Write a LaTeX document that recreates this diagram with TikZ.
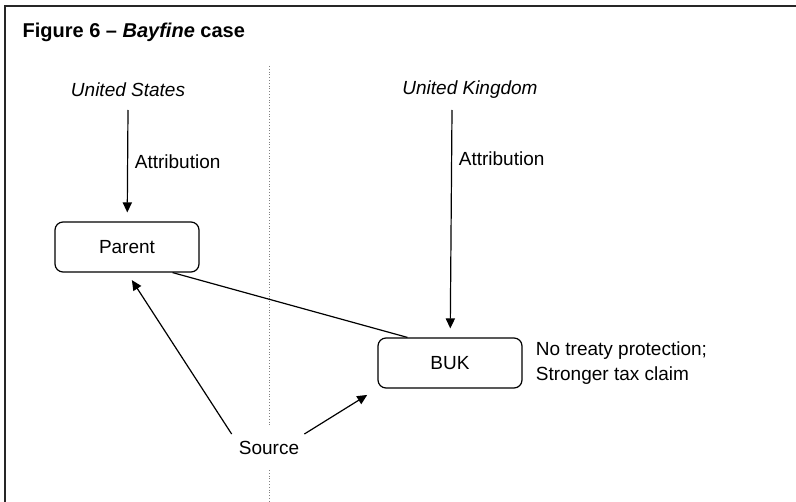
\documentclass[tikz,border=0pt]{standalone}
\usepackage{fontspec}
\setmainfont{Liberation Sans}
\usetikzlibrary{arrows.meta,positioning}

\begin{document}
\begin{tikzpicture}[x=0.5pt,y=-0.5pt,semithick,
      >={Stealth[length=5pt,width=4.6pt,inset=0pt]},
      every node/.style={font=\fontsize{9.5}{12.5}\selectfont},
      entity/.style={draw,rounded corners=4pt,minimum width=72pt,minimum height=25pt},
      arr/.style={->,shorten >=4.5pt},
      divider/.style={densely dotted,thin,gray}]
  \useasboundingbox (0,0) rectangle (796,502);
  % frame
  \draw[line width=1pt,black!85] (796,6) -- (5,6) -- (5,502);
  \node[anchor=west,inner sep=0,font=\bfseries\fontsize{10}{12}\selectfont] (title) at (22,32)
    {Figure 6 -- \textit{Bayfine} case};
  % countries
  \node[font=\itshape\fontsize{9.5}{12.5}\selectfont] (us) at (128,90) {United States};
  \node[font=\itshape\fontsize{9.5}{12.5}\selectfont] (uk) at (470,90) {United Kingdom};
  \coordinate (ustop) at (128,110);
  \coordinate (uktop) at (452,110);
  % entities
  \node[entity] (parent) at (127,247) {Parent};
  \node[entity] (buk) at (450,363) {BUK};
  \node[right=3pt of buk,align=left] (note) {No treaty protection;\\Stronger tax claim};
  \node (src) at (269,448) {Source};
  % border between the two states
  \coordinate (d1) at (269,66);
  \coordinate (d2) at (269,427);
  \coordinate (d3) at (269,470);
  \coordinate (d4) at (269,502);
  \draw[divider] (d1) -- (d2);
  \draw[divider] (d3) -- (d4);
  % connections
  \draw[arr] (ustop) -- node[right,pos=0.46] {Attribution} (parent);
  \draw[arr] (uktop) -- node[right,pos=0.215] {Attribution} (buk);
  \draw ([xshift=-13.5pt]parent.south east) -- ([xshift=15pt]buk.north west);
  \draw[arr] (src.north west) -- (parent.south);
  \draw[arr,shorten >=6pt] ([xshift=-1pt]src.north east) -- (buk.south west);
\end{tikzpicture}
\end{document}
